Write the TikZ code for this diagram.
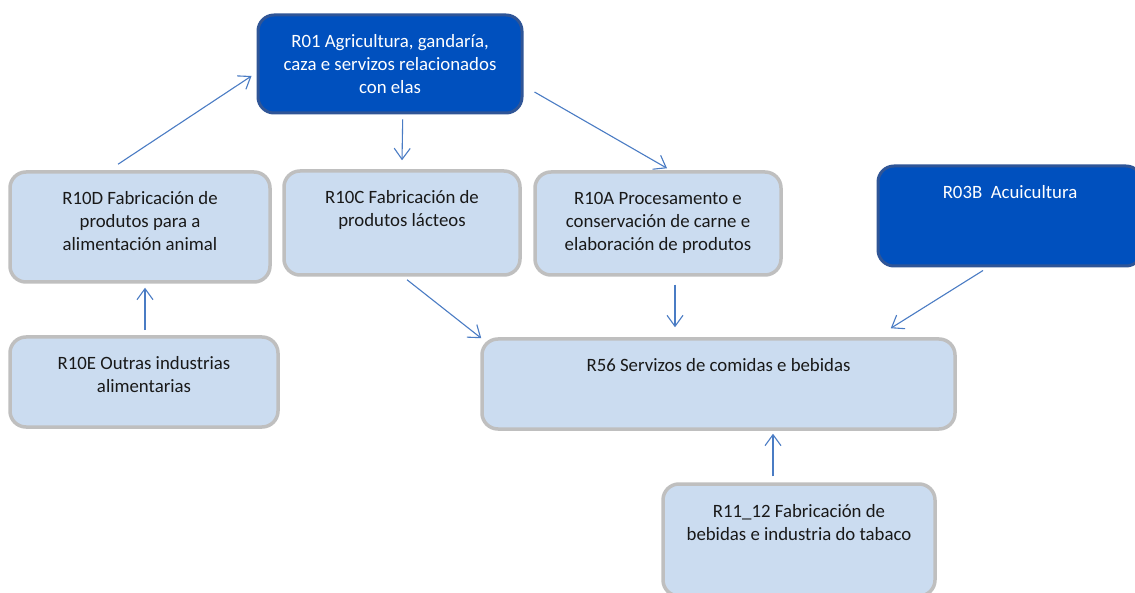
\documentclass[tikz,border=0pt]{standalone}
\usepackage{fontspec}
\setmainfont{Carlito}
\usetikzlibrary{arrows.meta}

\definecolor{lightfill}{HTML}{CBDCF0}
\definecolor{lightedge}{HTML}{BFBFBF}
\definecolor{darkfill}{HTML}{0050BE}
\definecolor{darkedge}{HTML}{2F5597}
\definecolor{linkblue}{HTML}{4A7CC4}

% top aligned text inside a box of width #1 and height #2
\newcommand{\boxtext}[3]{\parbox[t][#2pt][t]{#1pt}{\centering\rule{0pt}{33pt}#3}}

\tikzset{
  lightbox/.style={draw=lightedge, fill=lightfill, line width=3.5pt, rounded corners=16pt, inner sep=0pt, text=black!90},
  darkbox/.style={draw=darkedge, fill=darkfill, line width=3pt, rounded corners=16pt, inner sep=0pt, text=white},
  link/.style={draw=linkblue, line width=1.1pt, -{Straight Barb[length=11pt, width=16pt, line width=1.1pt]}}
}

\begin{document}
\begin{tikzpicture}[x=1pt, y=-1pt, font=\fontsize{18.8}{23}\selectfont]
      \useasboundingbox[fill=white] (0, 0) rectangle (1135, 593);

      % boxes
      \node[darkbox] (r01) at (390, 64) {\boxtext{264}{98}{R01 Agricultura, gandaría,\\caza e servizos relacionados\\con elas}};
      \node[lightbox] (r10d) at (140, 227) {\boxtext{260}{110}{R10D Fabricación de\\produtos para a\\alimentación animal}};
      \node[lightbox] (r10c) at (402, 223) {\boxtext{236}{104}{R10C Fabricación de\\produtos lácteos}};
      \node[lightbox] (r10a) at (658, 223.5) {\boxtext{246}{103}{R10A Procesamento e\\conservación de carne e\\elaboración de produtos}};
      \node[darkbox] (r03b) at (1010, 216) {\boxtext{264}{100}{R03B\ \ Acuicultura}};
      \node[lightbox] (r10e) at (144, 382) {\boxtext{268}{90}{R10E Outras industrias\\alimentarias}};
      \node[lightbox] (r56) at (718.5, 384) {\boxtext{473}{90}{R56 Servizos de comidas e bebidas}};
      \node[lightbox] (r11) at (799, 540) {\boxtext{272}{112}{R11\_12 Fabricación de\\bebidas e industria do tabaco}};

      % links
      \draw[link] ([shift={(-22,-6)}]r10d.north) -- ([shift={(-5,12)}]r01.west);
      \draw[link] ([shift={(12.7,5)}]r01.south) -- ([shift={(0,-9)}]r10c.north);
      \draw[link] ([shift={(11,28)}]r01.east) -- ([shift={(9,-2)}]r10a.north);
      \draw[link] ([shift={(1,-5)}]r10e.north) -- ([shift={(5,4)}]r10d.south);
      \draw[link] ([shift={(5,3)}]r10c.south) -- ([shift={(1,1)}]r56.north west);
      \draw[link] ([shift={(17,8)}]r10a.south) -- ([shift={(-43.5,-10)}]r56.north);
      \draw[link] ([shift={(-27,3)}]r03b.south) -- ([shift={(-66,-9)}]r56.north east);
      \draw[link] ([shift={(-26,-6)}]r11.north) -- ([shift={(54.5,3)}]r56.south);
    \end{tikzpicture}
\end{document}
